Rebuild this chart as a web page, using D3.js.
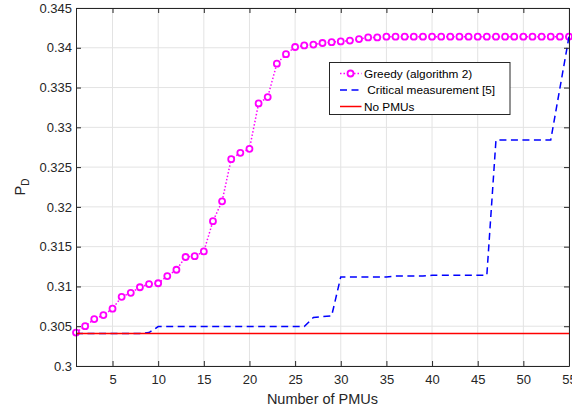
<!DOCTYPE html>
<html lang="en">
<head>
<meta charset="utf-8">
<title>PD vs Number of PMUs</title>
<script src="https://cdn.jsdelivr.net/npm/d3@7"></script>
<style>
  body { margin: 0; background: #fff; }
  svg { font-family: "Liberation Sans", Arial, sans-serif; }
  .grid line { stroke: #e3e3e3; stroke-width: 1; }
  .axis path, .axis line { stroke: #262626; }
  .axis text { fill: #262626; font-size: 13px; }
</style>
</head>
<body>
<svg width="572" height="414"></svg>
<script>
// x values 1..55
var pmus = d3.range(1, 56);

var greedy = [0.3042, 0.3050, 0.3059, 0.3064, 0.3072, 0.3087, 0.3092, 0.3099, 0.3103, 0.3104,
  0.3113, 0.3121, 0.3137, 0.3138, 0.3144, 0.3182, 0.3207, 0.3260, 0.3268, 0.3273,
  0.3330, 0.3338, 0.3380, 0.3392, 0.3401, 0.3403, 0.3404, 0.3406, 0.3407, 0.3408,
  0.3409, 0.3411, 0.3413, 0.3413, 0.3414, 0.3414, 0.3414, 0.3414, 0.3414, 0.3414,
  0.3414, 0.3414, 0.3414, 0.3414, 0.3414, 0.3414, 0.3414, 0.3414, 0.3414, 0.3414,
  0.3414, 0.3414, 0.3414, 0.3414, 0.3414];

var critical = [0.3041, 0.3041, 0.3041, 0.3041, 0.3041, 0.3041, 0.3041, 0.3041, 0.3042, 0.30495,
  0.30495, 0.30495, 0.30495, 0.30495, 0.30495, 0.30495, 0.30495, 0.30495, 0.30495, 0.30495,
  0.30495, 0.30495, 0.30495, 0.30495, 0.30495, 0.30495, 0.3061, 0.3062, 0.3063, 0.3112,
  0.3112, 0.3112, 0.3112, 0.3112, 0.3112, 0.3113, 0.3113, 0.3113, 0.3113, 0.3114,
  0.3114, 0.3114, 0.3114, 0.3114, 0.3114, 0.3114, 0.3284, 0.3284, 0.3284, 0.3284,
  0.3284, 0.3284, 0.3284, 0.3349, 0.3414];

var noPmu = pmus.map(function(d) { return 0.3041; });

var xTicks = [5, 10, 15, 20, 25, 30, 35, 40, 45, 50, 55];
var yTicks = [0.3, 0.305, 0.31, 0.315, 0.32, 0.325, 0.33, 0.335, 0.34, 0.345];
var legendNames = ["Greedy (algorithm 2)", " Critical measurement [5]", "No PMUs"];

var svg = d3.select("svg"),
    margin = {top: 8, right: 3, bottom: 48, left: 76},
    width = 572 - margin.left - margin.right,
    height = 414 - margin.top - margin.bottom;

var g = svg.append("g")
    .attr("transform", "translate(" + margin.left + "," + margin.top + ")");

var xScale = d3.scaleLinear().domain([1, 55]).range([0, width]);
var yScale = d3.scaleLinear().domain([0.3, 0.345]).range([height, 0]);

// grid
g.append("g").attr("class", "grid")
  .selectAll("line").data(xTicks).enter().append("line")
  .attr("x1", d => xScale(d)).attr("x2", d => xScale(d))
  .attr("y1", 0).attr("y2", height);
g.append("g").attr("class", "grid")
  .selectAll("line").data(yTicks).enter().append("line")
  .attr("x1", 0).attr("x2", width)
  .attr("y1", d => yScale(d)).attr("y2", d => yScale(d));

// lines
var line = d3.line().x((d, i) => xScale(pmus[i])).y(d => yScale(d));

g.append("path").datum(greedy)
  .attr("fill", "none").attr("stroke", "#ff00ff").attr("stroke-width", 1.5)
  .attr("stroke-dasharray", "1.5,2").attr("d", line);

g.selectAll(".mk").data(greedy).enter().append("circle")
  .attr("class", "mk")
  .attr("cx", (d, i) => xScale(pmus[i])).attr("cy", d => yScale(d))
  .attr("r", 3).attr("fill", "#fff").attr("stroke", "#ff00ff").attr("stroke-width", 1.8);

g.append("path").datum(critical)
  .attr("fill", "none").attr("stroke", "#0000ff").attr("stroke-width", 1.5)
  .attr("stroke-dasharray", "7,4.5").attr("d", line);

g.append("path").datum(noPmu)
  .attr("fill", "none").attr("stroke", "#ff0000").attr("stroke-width", 1.5)
  .attr("d", line);

// axes (box)
g.append("g").attr("class", "axis")
  .attr("transform", "translate(0," + height + ")")
  .call(d3.axisBottom(xScale).tickValues(xTicks).tickSizeInner(-5).tickSizeOuter(0).tickPadding(9));
g.append("g").attr("class", "axis")
  .call(d3.axisLeft(yScale).tickValues(yTicks).tickSizeInner(-5).tickSizeOuter(0).tickPadding(4)
    .tickFormat(d3.format("~g")));
g.append("g").attr("class", "axis")
  .call(d3.axisTop(xScale).tickValues(xTicks).tickSizeInner(-5).tickSizeOuter(0).tickFormat(""));
g.append("g").attr("class", "axis")
  .attr("transform", "translate(" + width + ",0)")
  .call(d3.axisRight(yScale).tickValues(yTicks).tickSizeInner(-5).tickSizeOuter(0).tickFormat(""));

// axis labels
svg.append("text")
  .attr("x", margin.left + width / 2).attr("y", 404)
  .attr("text-anchor", "middle").attr("font-size", 14.5).attr("fill", "#262626")
  .text("Number of PMUs");

var yl = svg.append("text")
  .attr("transform", "translate(25," + (margin.top + height / 2) + ") rotate(-90)")
  .attr("text-anchor", "middle").attr("font-size", 14.5).attr("fill", "#262626");
yl.append("tspan").text("P");
yl.append("tspan").attr("font-size", 10).attr("dy", 4).text("D");

// legend
var lg = svg.append("g").attr("transform", "translate(329.5,62.5)");
lg.append("rect").attr("width", 180.5).attr("height", 52)
  .attr("fill", "#fff").attr("stroke", "#262626").attr("stroke-width", 1);

var legendStyle = [
  {color: "#ff00ff", dash: "1.5,2", marker: true},
  {color: "#0000ff", dash: "7,4.5", marker: false},
  {color: "#ff0000", dash: null, marker: false}
];
legendNames.forEach(function(name, i) {
  var y = 11 + i * 16.5;
  var s = legendStyle[i];
  lg.append("line").attr("x1", 10.5).attr("x2", 32).attr("y1", y).attr("y2", y)
    .attr("stroke", s.color).attr("stroke-width", 1.5)
    .attr("stroke-dasharray", s.dash);
  if (s.marker) {
    lg.append("circle").attr("cx", 21).attr("cy", y).attr("r", 3)
      .attr("fill", "#fff").attr("stroke", s.color).attr("stroke-width", 1.8);
  }
  lg.append("text").attr("x", 34.5).attr("y", y + 4)
    .attr("font-size", 11.8).attr("fill", "#000")
    .attr("xml:space", "preserve").style("white-space", "pre")
    .text(name);
});
</script>
</body>
</html>
